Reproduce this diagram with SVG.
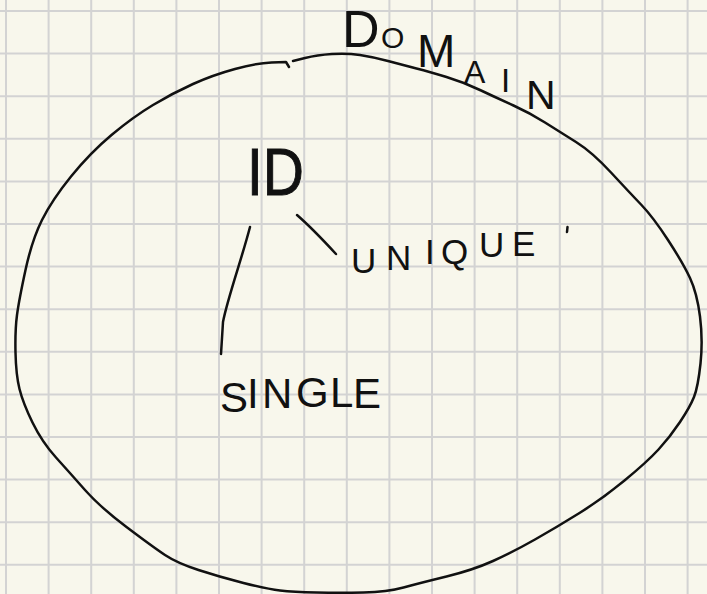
<svg xmlns="http://www.w3.org/2000/svg" width="707" height="594" viewBox="0 0 707 594">
  <style>
    .grid { stroke: #d3d3d3; stroke-width: 2; fill: none; }
    .ink { stroke: #111; stroke-width: 2.5; fill: none; stroke-linecap: round; stroke-linejoin: round; }
    .hand { font-family: "Liberation Sans", "DejaVu Sans", sans-serif; fill: #111; }
  </style>

  <!-- paper -->
  <rect x="0" y="0" width="707" height="594" fill="#f8f7ec"/>
  <g id="grid" class="grid">
    <path d="M6,0V594 M48.6,0V594 M91.2,0V594 M133.8,0V594 M176.4,0V594 M219,0V594 M261.6,0V594 M304.2,0V594 M346.8,0V594 M389.4,0V594 M432,0V594 M474.6,0V594 M517.2,0V594 M559.8,0V594 M602.4,0V594 M645,0V594 M687.6,0V594"/>
    <path d="M0,11H707 M0,53.6H707 M0,96.2H707 M0,138.8H707 M0,181.4H707 M0,224H707 M0,266.6H707 M0,309.2H707 M0,351.8H707 M0,394.4H707 M0,437H707 M0,479.6H707 M0,522.2H707 M0,564.8H707"/>
  </g>

  <!-- domain boundary with its label -->
  <g id="domain">
    <path class="ink" d="M293,61 L305,58 Q317,55 332,54 Q347,53 360,55 Q373,57 388,61 Q403,65 416.5,68.5 Q430,72 446.5,77 Q463,82 480,90 Q497,98 513.5,105.5 Q530,113 545,122.5 Q560,132 576,142 Q592,152 611,172.5 Q630,193 641.5,205 Q653,217 668,240 Q683,263 690,278 Q697,293 700,316.5 Q703,340 700.5,363.5 Q698,387 694,397 Q690,407 680,422 Q670,437 658.5,449.5 Q647,462 624.5,480.5 Q602,499 579.5,513 Q557,527 535,539.5 Q513,552 493,561 Q473,570 446.5,576.5 Q420,583 403.5,587.5 Q387,592 363.5,592.5 Q340,593 316.5,592.5 Q293,592 280,590.5 Q267,589 243.5,583 Q220,577 198.5,570 Q177,563 165,555 Q153,547 126.5,527 Q100,507 85,490 Q70,473 56,457.5 Q42,442 32.5,422.5 Q23,403 19.5,389 Q16,375 15.5,352.5 Q15,330 17,315 Q19,300 25.5,270 Q32,240 42,220 Q52,200 71,176.5 Q90,153 111.5,135 Q133,117 153,105 Q173,93 193,84 Q213,75 235,69 Q257,63 271.5,62.5 L286,62 L289,67"/>
    <text class="hand"><tspan x="342" y="47" font-size="52">D</tspan><tspan x="381" y="48" font-size="30">O</tspan><tspan x="417" y="67" font-size="46">M</tspan><tspan x="464" y="83" font-size="32">A</tspan><tspan x="501" y="92" font-size="33">I</tspan><tspan x="526" y="109" font-size="41">N</tspan></text>
  </g>

  <g id="id-node">
    <text class="hand" x="247" y="195" font-size="66" textLength="57" lengthAdjust="spacingAndGlyphs" stroke="#111" stroke-width="1">ID</text>
  </g>

  <g id="unique">
    <text class="hand" font-size="35"><tspan x="351" y="273">U</tspan><tspan x="386" y="270">N</tspan><tspan x="425" y="264">I</tspan><tspan x="441" y="264">Q</tspan><tspan x="479" y="257">U</tspan><tspan x="512" y="256">E</tspan></text>
    <path class="ink" d="M567.5,227 L567,232" stroke-width="2"/>
  </g>

  <g id="single">
    <text class="hand" font-size="42"><tspan x="220" y="412">S</tspan><tspan x="247" y="408">I</tspan><tspan x="262" y="408">N</tspan><tspan x="296" y="407">G</tspan><tspan x="330" y="407">L</tspan><tspan x="353" y="408">E</tspan></text>
  </g>

  <!-- links from ID to its two properties -->
  <g id="connectors" class="ink">
    <path d="M250,227 C242,258 227,300 223,322 L221,354"/>
    <path d="M297,215 Q312,228 336,254"/>
  </g>
</svg>
